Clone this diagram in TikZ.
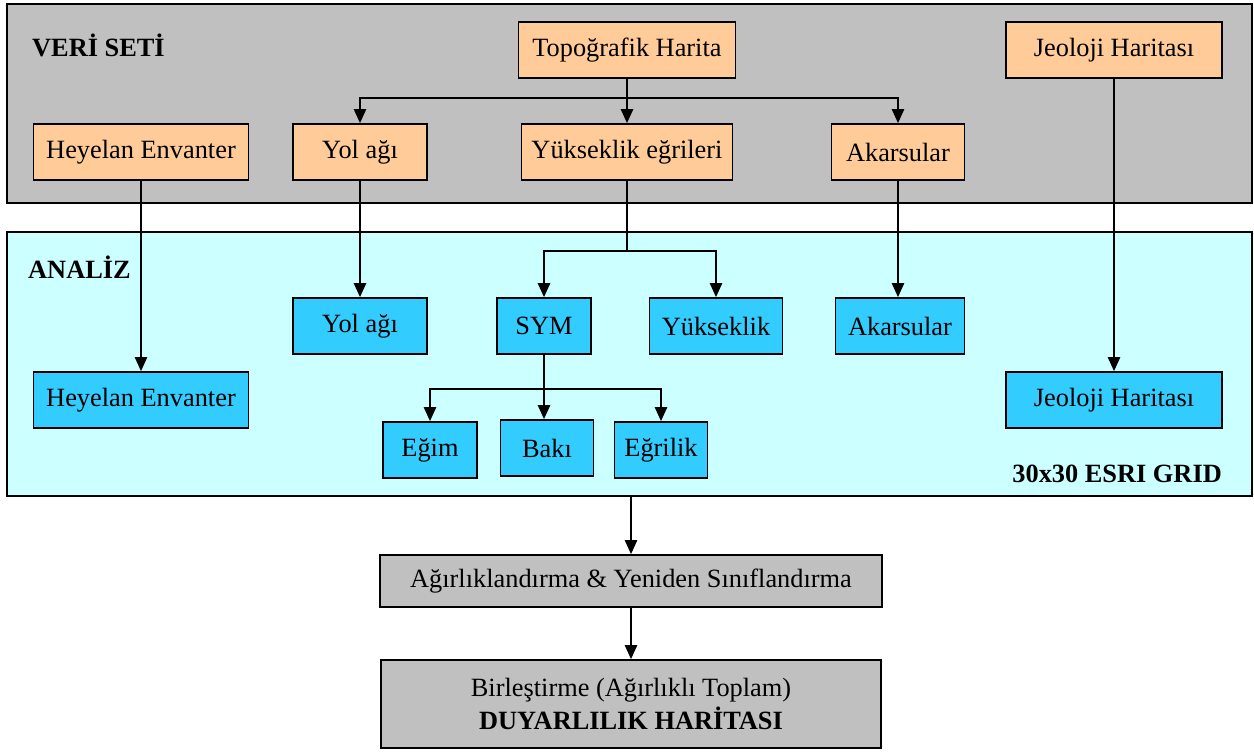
\documentclass[tikz,border=0pt]{standalone}
\usepackage{fontspec}
\setmainfont{Liberation Serif}
\usetikzlibrary{arrows.meta}

\definecolor{veribg}{HTML}{C0C0C0}
\definecolor{analizbg}{HTML}{CCFFFF}
\definecolor{veribox}{HTML}{FFCC99}
\definecolor{analizbox}{HTML}{33CCFF}

\begin{document}
\begin{tikzpicture}[x=0.02cm, y=-0.02cm,
    every node/.style={font=\fontsize{15}{19}\selectfont},
    kutu/.style={rectangle, draw, line width=1pt, minimum height=1.12cm, inner sep=2pt},
    girdi/.style={kutu, fill=veribox},
    analizkutu/.style={kutu, fill=analizbox},
    sonuc/.style={kutu, fill=veribg, align=center},
    ok/.style={-{Triangle[length=8pt,width=7pt]}, line width=1pt}]
    \useasboundingbox (0,0) rectangle (1254,751);

    % Panels
    \node[draw, line width=1pt, fill=veribg, minimum width=24.9cm, minimum height=3.98cm] (veri) at (629.5,103.5) {};
    \node[draw, line width=1pt, fill=analizbg, minimum width=24.9cm, minimum height=5.28cm] (analiz) at (629.5,364) {};
    \node[anchor=west, font=\fontsize{15}{19}\selectfont\bfseries] (veriT) at (26,45) {VERİ SETİ};
    \node[anchor=west, font=\fontsize{15}{19}\selectfont\bfseries] (analizT) at (22,267) {ANALİZ};
    \node[anchor=east, font=\fontsize{15}{19}\selectfont\bfseries] (grid) at (1228,474) {30x30 ESRI GRID};

    % Nodes
    \node[girdi, minimum width=4.34cm] (topo) at (627,50) {Topoğrafik Harita};
    \node[girdi, minimum width=4.32cm] (jeoA) at (1114,50) {Jeoloji Haritası};
    \node[girdi, minimum width=4.3cm] (heyA) at (141,152) {Heyelan Envanter};
    \node[girdi, minimum width=2.68cm] (yolA) at (360,152) {Yol ağı};
    \node[girdi, minimum width=4.22cm] (yukA) at (627,152) {Yükseklik eğrileri};
    \node[girdi, minimum width=2.66cm] (akaA) at (898,152) {Akarsular};

    \node[analizkutu, minimum width=4.3cm] (heyB) at (141,400) {Heyelan Envanter};
    \node[analizkutu, minimum width=2.68cm] (yolB) at (360,326) {Yol ağı};
    \node[analizkutu, minimum width=1.88cm] (sym) at (544,326) {SYM};
    \node[analizkutu, minimum width=2.66cm] (yukB) at (716,326) {Yükseklik};
    \node[analizkutu, minimum width=2.58cm] (akaB) at (900,326) {Akarsular};
    \node[analizkutu, minimum width=4.32cm] (jeoB) at (1114,400) {Jeoloji Haritası};
    \node[analizkutu, minimum width=1.88cm] (egim) at (430,450) {Eğim};
    \node[analizkutu, minimum width=1.86cm] (baki) at (547,448) {Bakı};
    \node[analizkutu, minimum width=1.86cm] (egrilik) at (661,450) {Eğrilik};

    \node[sonuc, minimum width=10.04cm, minimum height=1.04cm] (agir) at (631,581) {Ağırlıklandırma \& Yeniden Sınıflandırma};
    \node[sonuc, minimum width=10cm, minimum height=1.76cm] (birl) at (631,704) {Birleştirme (Ağırlıklı Toplam)\\\textbf{DUYARLILIK HARİTASI}};

    \coordinate (dal1) at (0,98);
    \coordinate (dal2) at (0,251);
    \coordinate (dal3) at (0,389);

    % Edges
    \draw[ok] (topo) -- (yukA);
    \draw[ok] (topo.south |- dal1) -| (yolA.north);
    \draw[ok] (topo.south |- dal1) -| (akaA.north);
    \draw[ok] (heyA.south) -- (heyA.south |- heyB.north);
    \draw[ok] (yolA) -- (yolB);
    \draw[line width=1pt] (yukA.south) -- (yukA.south |- dal2);
    \draw[ok] (yukA.south |- dal2) -| (sym.north);
    \draw[ok] (yukA.south |- dal2) -| (yukB.north);
    \draw[ok] (akaA.south) -- (akaA.south |- akaB.north);
    \draw[ok] (jeoA) -- (jeoB);
    \draw[ok] (sym.south) -- (sym.south |- baki.north);
    \draw[ok] (sym.south |- dal3) -| (egim.north);
    \draw[ok] (sym.south |- dal3) -| (egrilik.north);
    \draw[ok] (analiz.south -| agir.north) -- (agir.north);
    \draw[ok] (agir) -- (birl);
\end{tikzpicture}
\end{document}
